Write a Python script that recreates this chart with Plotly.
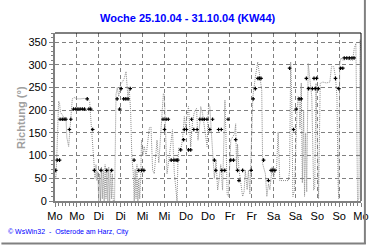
import plotly.graph_objects as go

# tick labels (half-day steps over one week, hours 0..168)
tick_hours = list(range(0, 169, 12))
tick_labels = ["Mo", "Mo", "Di", "Di", "Mi", "Mi", "Do", "Do", "Fr", "Fr",
               "Sa", "Sa", "So", "So", "Mo"]
y_ticks = [0, 50, 100, 150, 200, 250, 300, 350]

# dotted grey series (individual readings), hour of week / degrees
line_hours = [0, 0.5, 1, 1.5, 2, 2.5, 3, 4, 5, 6, 6.5, 7.5, 8, 8.7, 9.5, 10.5, 12, 14, 16, 18,
              19, 19.5, 20.2, 20.8, 21.5, 22, 22.5, 23, 23.5, 24, 24.5, 25, 25.5, 26, 26.5, 27,
              27.5, 28, 28.5, 29, 29.5, 30, 30.5, 31, 31.5, 32, 32.7, 33.5, 34.2, 35, 36, 37, 38,
              39, 40, 40.8, 41.5, 42.2, 43, 43.5, 44, 44.5, 45, 45.5, 46, 46.5, 47, 47.5, 48.2,
              49, 50, 51, 51.8, 52.7, 53.6, 54.5, 56, 57, 58, 59.5, 60, 60.5, 61.5, 62.5, 63.5,
              64.5, 65.5, 66.5, 67, 67.5, 68, 69, 70, 71, 71.8, 72.5, 73.3, 74, 74.5, 75.5, 76.5,
              77.7, 78.5, 79.6, 80, 81, 82, 83.5, 84.3, 85, 86, 87, 87.5, 88.4, 89.3, 90, 91, 92,
              93.3, 93.8, 94.5, 95.2, 96, 96.5, 98.6, 99.2, 99.7, 100.2, 101, 102, 103, 103.8,
              104.5, 105.5, 106.2, 107, 107.7, 108.6, 110, 111.3, 112.5, 113.5, 114, 115.5, 116.3,
              117.2, 118, 119.2, 120, 121, 121.6, 122.5, 123.4, 125, 127, 128.2, 128.8, 129.4,
              130, 130.6, 131.5, 132.8, 133.5, 134, 134.5, 135.2, 135.8, 136.5, 137, 137.6, 138.2,
              139, 140, 141, 142, 142.6, 143.3, 143.8, 144.2, 144.7, 145.6, 147, 149, 150.9,
              151.8, 153, 154, 154.8, 155.4, 155.8, 156.3, 157, 158, 160, 163.4, 164.3, 165.2,
              165.7, 166.1, 166.8, 167.5, 168]
line_values = [55, 50, 100, 145, 220, 215, 195, 190, 182, 185, 140, 120, 150, 200, 225, 228, 225, 225, 226, 224,
               220, 190, 150, 100, 70, 50, 80, 45, 65, 0, 60, 0, 75, 5, 70, 0,
               80, 5, 65, 0, 75, 0, 70, 5, 60, 0, 0, 235, 250, 230, 258, 262, 270,
               285, 230, 245, 200, 97, 60, 0, 70, 5, 80, 0, 50, 5, 45, 134, 100,
               120, 98, 140, 161, 163, 68, 60, 134, 84, 150, 237, 234, 179, 60, 90, 120,
               157, 62, 5, 0, 90, 118, 112, 135, 186, 160, 189, 208, 160, 119, 174, 196,
               204, 134, 175, 208, 193, 160, 120, 215, 208, 142, 75, 50, 90, 24, 45, 80, 24,
               222, 150, 15, 10, 80, 134, 148, 170, 70, 125, 70, 45, 10, 20,
               68, 25, 68, 15, 97, 229, 273, 306, 273, 245, 82, 60, 10,
               38, 25, 75, 52, 68, 68, 152, 45, 45, 45, 45, 68, 306,
               220, 10, 24, 193, 230, 222, 160, 260, 40, 200, 10, 150, 20,
               303, 266, 229, 24, 30, 259, 156, 30, 5, 259, 262, 260, 262,
               296, 296, 273, 229, 38, 5, 300, 315, 310, 312, 310, 336, 347,
               200, 0, 5, 355, 330]

# black markers (hourly wind direction, 16-point compass steps)
marker_hours = [0.4, 1.2, 2.5, 2.8, 4.0, 5.0, 6.0, 7.9, 8.7, 10.2, 11.4, 12.6, 13.8, 15.0, 16.2,
                17.7, 18.6, 19.6, 20.7, 21.6, 25.2, 28.4, 31.1, 34.1, 35.5, 36.3, 37.7, 38.9,
                40.1, 41.3, 43.4, 46.0, 47.6, 48.8, 59.3, 60.1, 61.0, 62.2, 63.8, 65.3, 66.5,
                67.4, 69.0, 70.6, 71.0, 72.2, 73.3, 74.5, 75.0, 76.2, 78.0, 79.5, 80.8, 82.0,
                83.4, 85.0, 86.5, 87.5, 88.3, 89.8, 91.3, 91.6, 93.2, 95.0, 96.5, 98.0, 99.2,
                100.2, 101.0, 103.0, 107.7, 108.8, 110.0, 111.4, 112.2, 113.1, 114.5, 117.2,
                118.6, 119.6, 120.7, 128.8, 131.0, 132.4, 134.0, 135.2, 138.0, 139.2, 141.3,
                142.2, 142.9, 143.6, 144.6, 154.0, 155.8, 156.8, 158.0, 158.8, 160.2, 161.6,
                163.0, 164.2]
marker_values = [67.5, 90, 90, 180, 180, 180, 180, 157.5, 180, 202.5, 202.5, 202.5, 202.5, 202.5, 202.5,
                 225, 202.5, 202.5, 157.5, 67.5, 67.5, 67.5, 67.5, 225, 202.5, 247.5, 225, 225,
                 225, 247.5, 90, 67.5, 67.5, 67.5, 180, 157.5, 180, 180, 90, 90, 90,
                 90, 112.5, 135, 157.5, 157.5, 112.5, 112.5, 180, 157.5, 157.5, 180, 180, 180,
                 180, 157.5, 180, 90, 67.5, 157.5, 157.5, 67.5, 67.5, 180, 90, 90, 135,
                 67.5, 45, 67.5, 67.5, 225, 247.5, 270, 270, 270, 90, 45,
                 67.5, 67.5, 67.5, 292.5, 157.5, 202.5, 225, 225, 270, 247.5, 247.5,
                 270, 247.5, 270, 247.5, 270, 247.5, 292.5, 292.5, 315, 315, 315,
                 315, 315]

L, R, T, B = 55, 11, 33, 44
W, H = 380, 245
PW, PH = W - L - R, H - T - B


def px(p):
    return (p - L) / PW


def py(q):
    return (H - B - q) / PH


fig = go.Figure()
fig.add_trace(go.Scatter(x=line_hours, y=line_values, mode="lines",
                         line=dict(color="#8c8c8c", width=1, dash="1px,1px"),
                         hoverinfo="skip", showlegend=False))
fig.add_trace(go.Scatter(x=marker_hours, y=marker_values, mode="markers",
                         marker=dict(symbol="cross", size=3, color="black"),
                         showlegend=False))

fig.update_layout(
    width=W, height=H,
    margin=dict(l=L, r=R, t=T, b=B),
    paper_bgcolor="white", plot_bgcolor="white",
    font=dict(family="Liberation Sans, Arial, sans-serif", size=11, color="black"),
    showlegend=False,
    xaxis=dict(range=[0, 168], tickmode="array", tickvals=tick_hours, ticktext=tick_labels,
               showgrid=True, gridcolor="#808080", griddash="4px,3px", gridwidth=1,
               showline=True, linecolor="#808080", linewidth=2,
               ticks="outside", ticklen=4, tickcolor="#808080", zeroline=False,
               minor=dict(tickmode="linear", tick0=0, dtick=2, ticks="outside", ticklen=3,
                          tickcolor="#808080", showgrid=False),
               tickfont=dict(size=11)),
    yaxis=dict(range=[0, 370], tickmode="array", tickvals=y_ticks,
               showgrid=True, gridcolor="#808080", griddash="4px,3px", gridwidth=1,
               showline=True, linecolor="#808080", linewidth=2,
               ticks="outside", ticklen=4, tickcolor="#808080", zeroline=False,
               minor=dict(tickmode="linear", tick0=0, dtick=10, ticks="outside", ticklen=2,
                          tickcolor="#808080", showgrid=False),
               tickfont=dict(size=11)),
)

shapes = [
    dict(type="line", xref="paper", yref="paper", x0=0, x1=1, y0=1, y1=1,
         line=dict(color="black", width=1), layer="above"),
    dict(type="line", xref="paper", yref="paper", x0=1, x1=1, y0=0, y1=1,
         line=dict(color="black", width=1), layer="above"),
    dict(type="line", xref="paper", yref="paper", x0=px(373), x1=px(373), y0=py(0), y1=py(244),
         line=dict(color="#808080", width=2)),
    dict(type="line", xref="paper", yref="paper", x0=px(0), x1=px(374), y0=py(243.5), y1=py(243.5),
         line=dict(color="#808080", width=2)),
]
fig.update_layout(shapes=shapes)

fig.add_annotation(text="<b>Woche 25.10.04 - 31.10.04 (KW44)</b>", xref="paper", yref="paper",
                   x=px(191), y=py(17.5), xanchor="center", yanchor="middle", showarrow=False,
                   font=dict(size=11, color="#0000ff"))
fig.add_annotation(text="<b>Richtung (°)</b>", xref="paper", yref="paper",
                   x=px(20), y=0.5, xanchor="center", yanchor="middle", showarrow=False,
                   textangle=-90, font=dict(size=11, color="#a0a0a0"))
fig.add_annotation(text="© WsWin32  -  Osterode am Harz, City", xref="paper", yref="paper",
                   x=px(5), y=py(232), xanchor="left", yanchor="middle", showarrow=False,
                   font=dict(size=7, color="#0000ff"))

fig.write_html("out.html")
